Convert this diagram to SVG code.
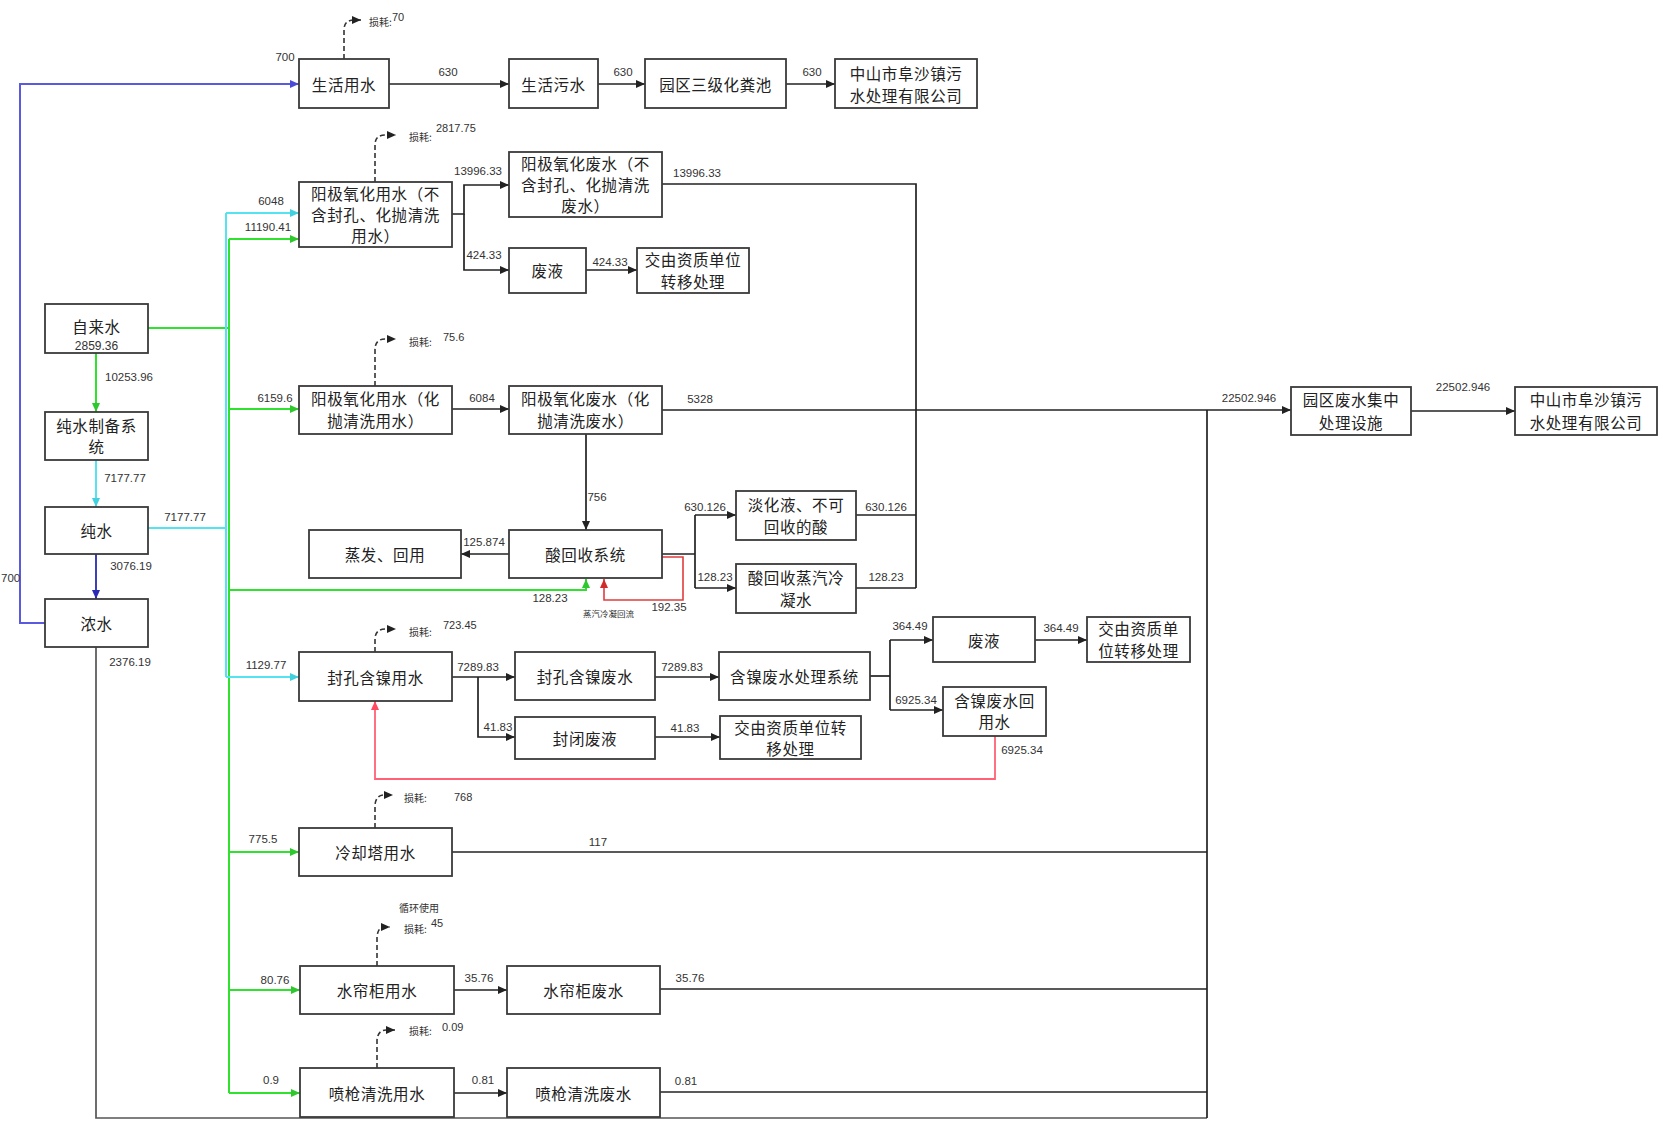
<svg xmlns="http://www.w3.org/2000/svg" width="1663" height="1123" viewBox="0 0 1663 1123">
<style>
.box{fill:#fff;stroke:#3a3a3a;stroke-width:1.8}
.t{font-family:"Noto Sans CJK SC","Liberation Sans",sans-serif;font-size:15.5px;fill:#222;text-anchor:middle;dominant-baseline:central;letter-spacing:0.6px}
.n{font-family:"Liberation Sans","Noto Sans CJK SC",sans-serif;font-size:11.5px;fill:#333;text-anchor:middle;dominant-baseline:central}
.s{font-family:"Noto Sans CJK SC","Liberation Sans",sans-serif;font-size:10px;fill:#333;dominant-baseline:central}
.ns{font-family:"Liberation Sans",sans-serif;font-size:11px;fill:#333;dominant-baseline:central}
.k{fill:none;stroke:#222;stroke-width:1.7}
.g{fill:none;stroke:#2ee22e;stroke-width:2}
.c{fill:none;stroke:#55e3f2;stroke-width:2}
.b{fill:none;stroke:#2a2ab4;stroke-width:1.8}
.p{fill:none;stroke:#5a5ae0;stroke-width:2}
.r{fill:none;stroke:#ff6275;stroke-width:1.8}
.r2{fill:none;stroke:#e23c3c;stroke-width:1.6}
.d{fill:none;stroke:#333;stroke-width:1.6;stroke-dasharray:5 3}
.gr{fill:none;stroke:#555;stroke-width:1.7}
</style>
<defs>
<marker id="ak" markerUnits="userSpaceOnUse" markerWidth="9" markerHeight="8" refX="9" refY="4" orient="auto"><path d="M0,0 L9,4 L0,8 z" fill="#222"/></marker>
<marker id="ag" markerUnits="userSpaceOnUse" markerWidth="9" markerHeight="8" refX="9" refY="4" orient="auto"><path d="M0,0 L9,4 L0,8 z" fill="#2ec82e"/></marker>
<marker id="ac" markerUnits="userSpaceOnUse" markerWidth="9" markerHeight="8" refX="9" refY="4" orient="auto"><path d="M0,0 L9,4 L0,8 z" fill="#40d0e0"/></marker>
<marker id="ab" markerUnits="userSpaceOnUse" markerWidth="9" markerHeight="8" refX="9" refY="4" orient="auto"><path d="M0,0 L9,4 L0,8 z" fill="#2a2ab4"/></marker>
<marker id="ap" markerUnits="userSpaceOnUse" markerWidth="9" markerHeight="8" refX="9" refY="4" orient="auto"><path d="M0,0 L9,4 L0,8 z" fill="#4a4ad8"/></marker>
<marker id="ar" markerUnits="userSpaceOnUse" markerWidth="9" markerHeight="8" refX="9" refY="4" orient="auto"><path d="M0,0 L9,4 L0,8 z" fill="#ff4a60"/></marker>
<marker id="ar2" markerUnits="userSpaceOnUse" markerWidth="9" markerHeight="8" refX="9" refY="4" orient="auto"><path d="M0,0 L9,4 L0,8 z" fill="#d02a2a"/></marker>
</defs>
<rect width="1663" height="1123" fill="#fff"/>

<g id="connectors">
<path class="p" d="M45,623 H20 V84 H299" marker-end="url(#ap)"/>
<path class="g" d="M148,328 H229"/>
<path class="g" d="M96,353 V412" marker-end="url(#ag)"/>
<path class="c" d="M226,213 V677"/>
<path class="g" d="M229,239 V1093"/>
<path class="g" d="M229,239 H299" marker-end="url(#ag)"/>
<path class="g" d="M229,409 H299" marker-end="url(#ag)"/>
<path class="g" d="M229,590 H586 V579" marker-end="url(#ag)"/>
<path class="g" d="M229,852 H299" marker-end="url(#ag)"/>
<path class="g" d="M229,990 H300" marker-end="url(#ag)"/>
<path class="g" d="M229,1093 H300" marker-end="url(#ag)"/>
<path class="c" d="M96,460 V507" marker-end="url(#ac)"/>
<path class="c" d="M148,528 H226"/>
<path class="c" d="M226,213 H299" marker-end="url(#ac)"/>
<path class="c" d="M226,677 H299" marker-end="url(#ac)"/>
<path class="b" d="M96,554 V599" marker-end="url(#ab)"/>
<path class="k" d="M389,84 H509" marker-end="url(#ak)"/>
<path class="k" d="M598,84 H645" marker-end="url(#ak)"/>
<path class="k" d="M786,84 H835" marker-end="url(#ak)"/>
<path class="k" d="M452,214 H464 V185 H509" marker-end="url(#ak)"/>
<path class="k" d="M464,214 V270 H509" marker-end="url(#ak)"/>
<path class="k" d="M586,270 H637" marker-end="url(#ak)"/>
<path class="k" d="M662,184 H916 V588"/>
<path class="k" d="M452,409 H509" marker-end="url(#ak)"/>
<path class="k" d="M662,410 H1291" marker-end="url(#ak)"/>
<path class="k" d="M1411,411 H1515" marker-end="url(#ak)"/>
<path class="k" d="M586,434 V530" marker-end="url(#ak)"/>
<path class="k" d="M509,554 H461" marker-end="url(#ak)"/>
<path class="k" d="M662,554 H695"/>
<path class="k" d="M695,515 V588"/>
<path class="k" d="M695,515 H736" marker-end="url(#ak)"/>
<path class="k" d="M695,588 H736" marker-end="url(#ak)"/>
<path class="k" d="M856,515 H916"/>
<path class="k" d="M856,588 H916"/>
<path class="k" d="M452,677 H515" marker-end="url(#ak)"/>
<path class="k" d="M478,677 V737 H515" marker-end="url(#ak)"/>
<path class="k" d="M655,677 H719" marker-end="url(#ak)"/>
<path class="k" d="M655,737 H720" marker-end="url(#ak)"/>
<path class="k" d="M870,676 H890"/>
<path class="k" d="M890,640 V710"/>
<path class="k" d="M890,640 H933" marker-end="url(#ak)"/>
<path class="k" d="M890,710 H943" marker-end="url(#ak)"/>
<path class="k" d="M1035,640 H1087" marker-end="url(#ak)"/>
<path class="k" d="M452,852 H1207"/>
<path class="k" d="M454,990 H507" marker-end="url(#ak)"/>
<path class="k" d="M660,989 H1207"/>
<path class="k" d="M454,1093 H507" marker-end="url(#ak)"/>
<path class="k" d="M660,1092 H1207"/>
<path class="gr" d="M96,647 V1118 H1207"/>
<path class="k" d="M1207,1118 V410"/>
<path class="r" d="M995,736 V779 H375 V701" marker-end="url(#ar)"/>
<path class="r2" d="M662,557 H683 V600 H604 V579" marker-end="url(#ar2)"/>
<path class="d" d="M344,59 V30 Q344,20 354,20 H361" marker-end="url(#ak)"/>
<path class="d" d="M375,182 V145 Q375,135 385,135 H396" marker-end="url(#ak)"/>
<path class="d" d="M375,386 V350 Q375,339 385,339 H396" marker-end="url(#ak)"/>
<path class="d" d="M375,652 V638 Q376,629 385,629 H396" marker-end="url(#ak)"/>
<path class="d" d="M375,828 V805 Q376,795 384,795 H393" marker-end="url(#ak)"/>
<path class="d" d="M377,966 V937 Q378,927 384,927 H390" marker-end="url(#ak)"/>
<path class="d" d="M377,1068 V1040 Q378,1030 386,1030 H395" marker-end="url(#ak)"/>
</g>

<g id="labels">
<text class="n" x="1" y="578" style="text-anchor:start">700</text>
<text class="n" x="285" y="57">700</text>
<text class="n" x="448" y="72">630</text>
<text class="n" x="623" y="72">630</text>
<text class="n" x="812" y="72">630</text>
<text class="n" x="478" y="171">13996.33</text>
<text class="n" x="484" y="255">424.33</text>
<text class="n" x="610" y="262">424.33</text>
<text class="n" x="697" y="173">13996.33</text>
<text class="n" x="271" y="201">6048</text>
<text class="n" x="268" y="227">11190.41</text>
<text class="n" x="275" y="398">6159.6</text>
<text class="n" x="482" y="398">6084</text>
<text class="n" x="700" y="399">5328</text>
<text class="n" x="1249" y="398">22502.946</text>
<text class="n" x="1463" y="387">22502.946</text>
<text class="n" x="129" y="377">10253.96</text>
<text class="n" x="125" y="478">7177.77</text>
<text class="n" x="185" y="517">7177.77</text>
<text class="n" x="131" y="566">3076.19</text>
<text class="n" x="130" y="662">2376.19</text>
<text class="n" x="597" y="497">756</text>
<text class="n" x="484" y="542">125.874</text>
<text class="n" x="705" y="507">630.126</text>
<text class="n" x="715" y="577">128.23</text>
<text class="n" x="886" y="507">630.126</text>
<text class="n" x="886" y="577">128.23</text>
<text class="n" x="550" y="598">128.23</text>
<text class="n" x="669" y="607">192.35</text>
<text class="s" x="583" y="613" style="font-size:8.5px">蒸汽冷凝回流</text>
<text class="n" x="266" y="665">1129.77</text>
<text class="n" x="478" y="667">7289.83</text>
<text class="n" x="498" y="727">41.83</text>
<text class="n" x="682" y="667">7289.83</text>
<text class="n" x="685" y="728">41.83</text>
<text class="n" x="910" y="626">364.49</text>
<text class="n" x="916" y="700">6925.34</text>
<text class="n" x="1061" y="628">364.49</text>
<text class="n" x="1022" y="750">6925.34</text>
<text class="n" x="263" y="839">775.5</text>
<text class="n" x="598" y="842">117</text>
<text class="n" x="275" y="980">80.76</text>
<text class="n" x="479" y="978">35.76</text>
<text class="n" x="690" y="978">35.76</text>
<text class="n" x="271" y="1080">0.9</text>
<text class="n" x="483" y="1080">0.81</text>
<text class="n" x="686" y="1081">0.81</text>
<text class="s" x="369" y="21">损耗:</text><text class="ns" x="392" y="17">70</text>
<text class="s" x="409" y="136">损耗:</text><text class="ns" x="436" y="128">2817.75</text>
<text class="s" x="409" y="341">损耗:</text><text class="ns" x="443" y="337">75.6</text>
<text class="s" x="409" y="631">损耗:</text><text class="ns" x="443" y="625">723.45</text>
<text class="s" x="404" y="797">损耗:</text><text class="ns" x="454" y="797">768</text>
<text class="s" x="399" y="907">循环使用</text>
<text class="s" x="404" y="928">损耗:</text><text class="ns" x="431" y="923">45</text>
<text class="s" x="409" y="1030">损耗:</text><text class="ns" x="442" y="1027">0.09</text>
</g>

<g id="n1"><rect class="box" x="299" y="59" width="90" height="49"/><text class="t" x="344" y="84">生活用水</text></g>
<g id="n2"><rect class="box" x="509" y="59" width="89" height="49"/><text class="t" x="553.5" y="84">生活污水</text></g>
<g id="n3"><rect class="box" x="645" y="59" width="141" height="49"/><text class="t" x="715.5" y="84">园区三级化粪池</text></g>
<g id="n4"><rect class="box" x="835" y="59" width="142" height="49"/><text class="t" x="906" y="73">中山市阜沙镇污</text><text class="t" x="906" y="95">水处理有限公司</text></g>
<g id="n5"><rect class="box" x="299" y="182" width="153" height="65"/><text class="t" x="375.5" y="193">阳极氧化用水（不</text><text class="t" x="375.5" y="214">含封孔、化抛清洗</text><text class="t" x="375.5" y="235">用水）</text></g>
<g id="n6"><rect class="box" x="509" y="152" width="153" height="65"/><text class="t" x="585.5" y="163">阳极氧化废水（不</text><text class="t" x="585.5" y="184">含封孔、化抛清洗</text><text class="t" x="585.5" y="205">废水）</text></g>
<g id="n7"><rect class="box" x="509" y="248" width="77" height="45"/><text class="t" x="547.5" y="270">废液</text></g>
<g id="n8"><rect class="box" x="637" y="248" width="112" height="45"/><text class="t" x="693" y="259">交由资质单位</text><text class="t" x="693" y="281">转移处理</text></g>
<g id="n9"><rect class="box" x="45" y="304" width="103" height="49"/><text class="t" x="96.5" y="326">自来水</text><text class="n" x="96.5" y="346" style="font-size:12px">2859.36</text></g>
<g id="n10"><rect class="box" x="45" y="412" width="103" height="48"/><text class="t" x="96.5" y="425">纯水制备系</text><text class="t" x="96.5" y="446">统</text></g>
<g id="n11"><rect class="box" x="45" y="507" width="103" height="47"/><text class="t" x="96.5" y="530">纯水</text></g>
<g id="n12"><rect class="box" x="45" y="599" width="103" height="48"/><text class="t" x="96.5" y="623">浓水</text></g>
<g id="n13"><rect class="box" x="299" y="386" width="153" height="48"/><text class="t" x="375.5" y="398">阳极氧化用水（化</text><text class="t" x="375.5" y="420">抛清洗用水）</text></g>
<g id="n14"><rect class="box" x="509" y="386" width="153" height="48"/><text class="t" x="585.5" y="398">阳极氧化废水（化</text><text class="t" x="585.5" y="420">抛清洗废水）</text></g>
<g id="n15"><rect class="box" x="309" y="530" width="152" height="48"/><text class="t" x="385" y="554">蒸发、回用</text></g>
<g id="n16"><rect class="box" x="509" y="530" width="153" height="48"/><text class="t" x="585.5" y="554">酸回收系统</text></g>
<g id="n17"><rect class="box" x="736" y="491" width="120" height="49"/><text class="t" x="796" y="504">淡化液、不可</text><text class="t" x="796" y="526">回收的酸</text></g>
<g id="n18"><rect class="box" x="736" y="564" width="120" height="49"/><text class="t" x="796" y="577">酸回收蒸汽冷</text><text class="t" x="796" y="599">凝水</text></g>
<g id="n19"><rect class="box" x="1291" y="387" width="120" height="48"/><text class="t" x="1351" y="399">园区废水集中</text><text class="t" x="1351" y="422">处理设施</text></g>
<g id="n20"><rect class="box" x="1515" y="387" width="142" height="48"/><text class="t" x="1586" y="399">中山市阜沙镇污</text><text class="t" x="1586" y="422">水处理有限公司</text></g>
<g id="n21"><rect class="box" x="299" y="652" width="153" height="49"/><text class="t" x="375.5" y="677">封孔含镍用水</text></g>
<g id="n22"><rect class="box" x="515" y="652" width="140" height="48"/><text class="t" x="585" y="676">封孔含镍废水</text></g>
<g id="n23"><rect class="box" x="719" y="652" width="151" height="48"/><text class="t" x="794.5" y="676">含镍废水处理系统</text></g>
<g id="n24"><rect class="box" x="933" y="617" width="102" height="45"/><text class="t" x="984" y="640">废液</text></g>
<g id="n25"><rect class="box" x="1087" y="617" width="103" height="45"/><text class="t" x="1138.5" y="628">交由资质单</text><text class="t" x="1138.5" y="650">位转移处理</text></g>
<g id="n26"><rect class="box" x="943" y="687" width="103" height="49"/><text class="t" x="994.5" y="700">含镍废水回</text><text class="t" x="994.5" y="721">用水</text></g>
<g id="n27"><rect class="box" x="515" y="717" width="140" height="42"/><text class="t" x="585" y="738">封闭废液</text></g>
<g id="n28"><rect class="box" x="720" y="716" width="141" height="43"/><text class="t" x="790.5" y="727">交由资质单位转</text><text class="t" x="790.5" y="748">移处理</text></g>
<g id="n29"><rect class="box" x="299" y="828" width="153" height="48"/><text class="t" x="375.5" y="852">冷却塔用水</text></g>
<g id="n30"><rect class="box" x="300" y="966" width="154" height="48"/><text class="t" x="377" y="990">水帘柜用水</text></g>
<g id="n31"><rect class="box" x="507" y="966" width="153" height="48"/><text class="t" x="583.5" y="990">水帘柜废水</text></g>
<g id="n32"><rect class="box" x="300" y="1068" width="154" height="49"/><text class="t" x="377" y="1093">喷枪清洗用水</text></g>
<g id="n33"><rect class="box" x="507" y="1068" width="153" height="49"/><text class="t" x="583.5" y="1093">喷枪清洗废水</text></g>
</svg>
